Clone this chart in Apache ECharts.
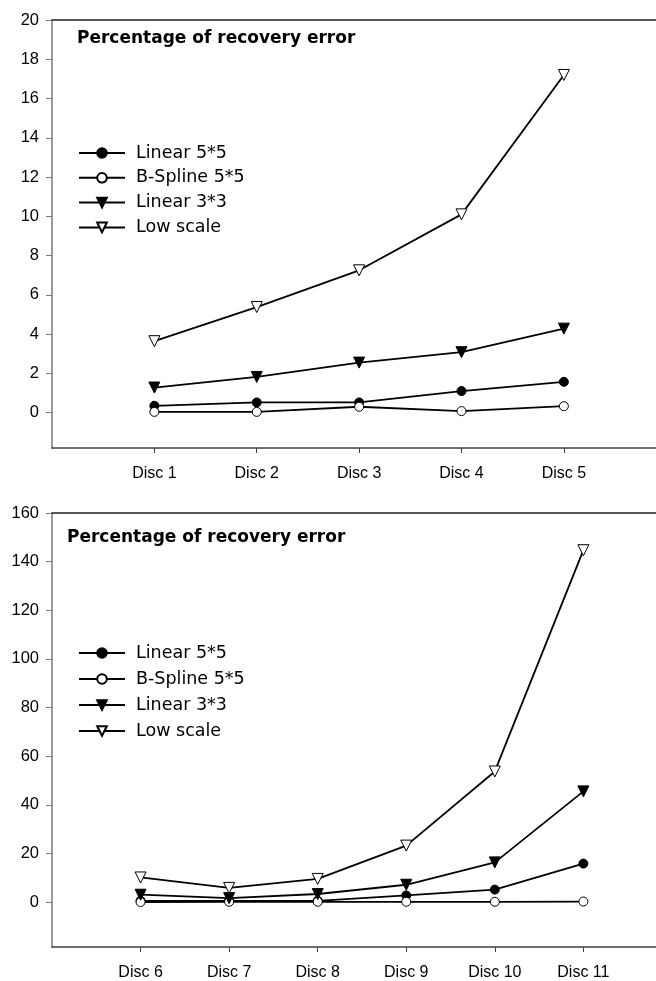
<!DOCTYPE html>
<html>
<head>
<meta charset="utf-8">
<script src="https://cdn.jsdelivr.net/npm/echarts@6/dist/echarts.min.js"></script>
<style>html,body{margin:0;padding:0;background:#fff;}#c{width:656px;height:981px;}</style>
</head>
<body>
<div id="c"></div>
<script>
// ---- data ----
const titleText = 'Percentage of recovery error';
const seriesNames = ['Linear 5*5', 'B-Spline 5*5', 'Linear 3*3', 'Low scale'];

const categoriesTop = ['Disc 1', 'Disc 2', 'Disc 3', 'Disc 4', 'Disc 5'];
const linear55Top  = [0.35, 0.52, 0.52, 1.1, 1.57];
const bspline55Top = [0.04, 0.04, 0.3, 0.08, 0.33];
const linear33Top  = [1.28, 1.82, 2.55, 3.08, 4.28];
const lowScaleTop  = [3.64, 5.38, 7.25, 10.1, 17.2];
const yTicksTop = [0, 2, 4, 6, 8, 10, 12, 14, 16, 18, 20];

const categoriesBottom = ['Disc 6', 'Disc 7', 'Disc 8', 'Disc 9', 'Disc 10', 'Disc 11'];
const linear55Bottom  = [0.5, 0.5, 0.5, 2.7, 5.1, 15.8];
const bspline55Bottom = [0.0, 0.1, 0.1, 0.1, 0.1, 0.2];
const linear33Bottom  = [3.0, 1.6, 3.3, 7.1, 16.3, 45.5];
const lowScaleBottom  = [10.1, 5.8, 9.5, 23.2, 53.7, 144.7];
const yTicksBottom = [0, 20, 40, 60, 80, 100, 120, 140, 160];

// ---- styles ----
const xAxisColor = '#404040';
const yAxisColor = '#7a7a7a';
const topLineColor = '#202020';
const styles = [
  {symbol: 'circle', symbolSize: 9, symbolRotate: 0, fill: '#000'},
  {symbol: 'circle', symbolSize: 9, symbolRotate: 0, fill: '#fff'},
  {symbol: 'triangle', symbolSize: 11, symbolRotate: 180, fill: '#000'},
  {symbol: 'triangle', symbolSize: 11, symbolRotate: 180, fill: '#fff'}
];

function toPoints(vals) { return vals.map((v, i) => [i + 1, v]); }

function makeSeries(valsList, gridIdx) {
  return valsList.map((vals, k) => ({
    name: seriesNames[k],
    type: 'line',
    xAxisIndex: gridIdx * 2,
    yAxisIndex: gridIdx,
    data: toPoints(vals),
    symbol: styles[k].symbol,
    symbolSize: styles[k].symbolSize,
    symbolRotate: styles[k].symbolRotate,
    showAllSymbol: true,
    lineStyle: {color: '#000', width: 1.8},
    itemStyle: {color: styles[k].fill, borderColor: '#000', borderWidth: 1},
    emphasis: {disabled: true},
    animation: false,
    z: 2 + k
  }));
}

function xAxisPair(gridIdx, cats, maxV) {
  return [{
    type: 'value', gridIndex: gridIdx, min: 0, max: maxV, position: 'bottom',
    splitLine: {show: false},
    axisLine: {show: true, onZero: false, lineStyle: {color: xAxisColor, width: 1.5}},
    axisTick: {show: true, length: 5, inside: false, customValues: cats.map((c, i) => i + 1), lineStyle: {color: xAxisColor, width: 1}},
    axisLabel: {
      show: true, margin: 18, customValues: cats.map((c, i) => i + 1),
      formatter: v => cats[Math.round(v) - 1] || '',
      color: '#000', fontFamily: 'Liberation Sans, Arial, sans-serif', fontSize: 16
    }
  }, {
    type: 'value', gridIndex: gridIdx, min: 0, max: maxV, position: 'top',
    splitLine: {show: false},
    axisLine: {show: true, onZero: false, lineStyle: {color: topLineColor, width: 1.5}},
    axisTick: {show: false}, axisLabel: {show: false}
  }];
}

function yAxis(gridIdx, ticks, minV) {
  return {
    type: 'value', gridIndex: gridIdx, min: minV, max: ticks[ticks.length - 1],
    splitLine: {show: false},
    axisLine: {show: true, onZero: false, lineStyle: {color: yAxisColor, width: 1.5}},
    axisTick: {show: true, length: 6, customValues: ticks, lineStyle: {color: yAxisColor, width: 1}},
    axisLabel: {
      show: true, margin: 13, customValues: ticks,
      color: '#000', fontFamily: 'Liberation Sans, Arial, sans-serif', fontSize: 16.5
    }
  };
}

function legend(top, gap) {
  return {
    orient: 'vertical', left: 78, top: top, itemWidth: 46, itemHeight: 12, itemGap: gap,
    padding: 0,
    data: seriesNames, selectedMode: false,
    textStyle: {fontFamily: 'DejaVu Sans, sans-serif', fontSize: 17.5, color: '#000', lineHeight: 20, padding: [0, 0, 0, 6]},
    inactiveColor: '#000'
  };
}

const chart = echarts.init(document.getElementById('c'), null, {renderer: 'canvas'});
chart.setOption({
  backgroundColor: '#fff',
  animation: false,
  title: [
    {text: titleText, left: 77, top: 29, textStyle: {fontFamily: 'DejaVu Sans, sans-serif', fontWeight: 'bold', fontSize: 17, color: '#000', lineHeight: 20}, padding: 0},
    {text: titleText, left: 67, top: 528, textStyle: {fontFamily: 'DejaVu Sans, sans-serif', fontWeight: 'bold', fontSize: 17, color: '#000', lineHeight: 20}, padding: 0}
  ],
  legend: [legend(143, 4.8), legend(643, 6.0)],
  grid: [
    {left: 52, right: 0, top: 20, height: 428, containLabel: false},
    {left: 52, right: 0, top: 513, height: 434, containLabel: false}
  ],
  xAxis: [...xAxisPair(0, categoriesTop, 5.9), ...xAxisPair(1, categoriesBottom, 6.82)],
  yAxis: [yAxis(0, yTicksTop, -1.8), yAxis(1, yTicksBottom, -18.5)],
  series: [
    ...makeSeries([linear55Top, bspline55Top, linear33Top, lowScaleTop], 0),
    ...makeSeries([linear55Bottom, bspline55Bottom, linear33Bottom, lowScaleBottom], 1)
  ]
});
</script>
</body>
</html>
